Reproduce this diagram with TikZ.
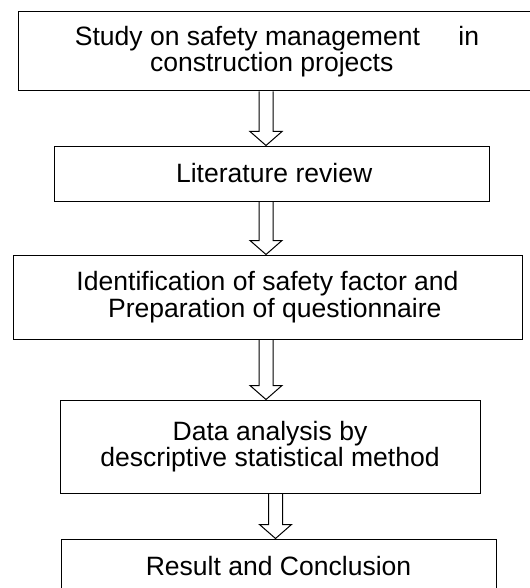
\documentclass[tikz,border=0pt]{standalone}
\usepackage{fontspec}
\setmainfont{Liberation Sans}
\usepackage{tikz}
\usetikzlibrary{calc}

\begin{document}
\begin{tikzpicture}[x=0.75pt, y=-0.75pt,
  stepbox/.style={draw, line width=0.75pt, inner sep=0pt, align=center,
    font=\fontsize{19.9}{20}\selectfont},
  hollow/.style={draw, line width=0.75pt, to path={
    let \p1=(\tikztostart), \p2=(\tikztotarget) in
    (\x1-5.25pt,\y1) -- (\x1-5.25pt,\y2+10.5pt) -- (\x1-12pt,\y2+10.5pt)
    -- (\x1,\y2) -- (\x1+12pt,\y2+10.5pt) -- (\x1+5.25pt,\y2+10.5pt)
    -- (\x1+5.25pt,\y1)}}]

\useasboundingbox (0,0) rectangle (530,588);
\clip (0,0) rectangle (530,588);

\node [stepbox, minimum width=388.5pt, minimum height=59.25pt] (study) at (277,51.5)
  {Study on safety management\hspace{1.45em}in\\construction projects\hspace*{0.4em}};
\node [stepbox, minimum width=326.25pt, minimum height=41.25pt] (lit) at (271.5,173.5)
  {\hspace*{0.2em}Literature review};
\node [stepbox, minimum width=381.75pt, minimum height=63pt] (ident) at (267.5,297)
  {Identification of safety factor and\\\hspace*{0.55em}Preparation of questionnaire};
\node [stepbox, minimum width=315pt, minimum height=69.75pt] (data) at (270,446.5)
  {Data analysis by\\descriptive statistical method};
\node [stepbox, minimum width=326.25pt, minimum height=41.25pt] (result) at (278.5,566.5)
  {Result and Conclusion};

\coordinate (col) at (266,0);
\coordinate (col-last) at (275.5,0);

\foreach \a/\b/\c in {study/lit/col, lit/ident/col, ident/data/col, data/result/col-last}
  \draw [hollow] (\a.south -| \c) to (\b.north -| \c);
\end{tikzpicture}
\end{document}
